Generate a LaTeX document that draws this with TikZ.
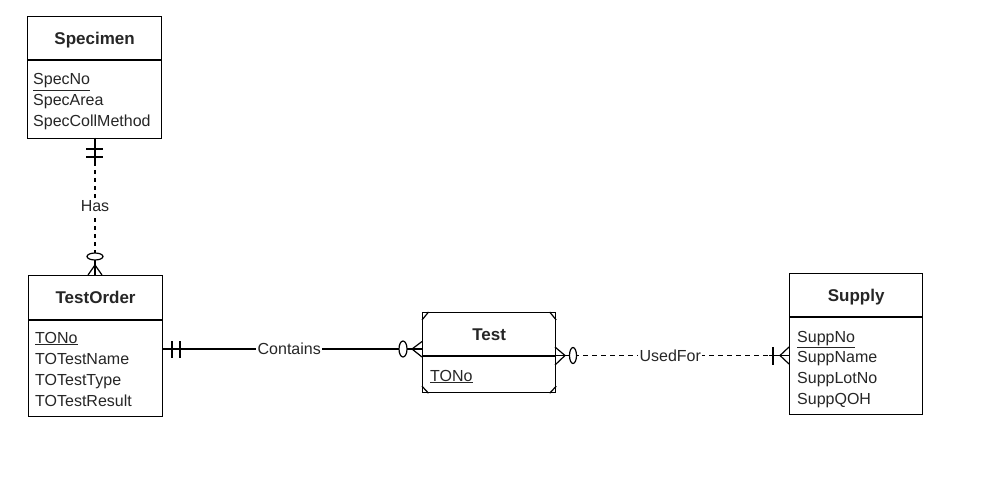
\documentclass[tikz,border=0pt]{standalone}
\usepackage{fontspec}
\setmainfont{Liberation Sans}
\usetikzlibrary{calc}
\begin{document}
\begin{tikzpicture}[x=1pt,y=-1pt,
  ent/.style={draw=black,line width=1.2pt,fill=white,anchor=north west,inner sep=0pt},
  etitle/.style={font=\fontsize{17}{19}\selectfont\bfseries,text=black!85,inner sep=0pt,anchor=base},
  attr/.style={font=\fontsize{16}{19}\selectfont,text=black!85,anchor=base west,inner sep=0pt},
  rel/.style={line width=1.2pt,draw=black},
  reldash/.style={line width=1.2pt,draw=black,dash pattern=on 4pt off 4pt},
  lbl/.style={font=\fontsize{16}{19}\selectfont,text=black!85,fill=white,inner sep=1.5pt},
  sym/.style={line width=1.2pt,draw=black},
  oval/.style={line width=1.2pt,draw=black,fill=white}]
\useasboundingbox (0,0) rectangle (984,497);

% Specimen
\node[ent,minimum width=134pt,minimum height=122pt] (spec) at (27,16) {};
\node[etitle] (specT) at ($(spec.north)+(0,29)$) {Specimen};
\draw[sym] (spec.west |- 0,60) -- (spec.east |- 0,60);
\node[attr] (specA1) at ($(spec.west |- 0,85)+(6,0)$) {\underline{SpecNo}};
\node[attr] (specA2) at ($(spec.west |- 0,106)+(6,0)$) {SpecArea};
\node[attr] (specA3) at ($(spec.west |- 0,127)+(6,0)$) {SpecCollMethod};

% TestOrder
\node[ent,minimum width=134pt,minimum height=141pt] (to) at (28,275) {};
\node[etitle] (toT) at ($(to.north)+(0,28)$) {TestOrder};
\draw[sym] (to.west |- 0,320) -- (to.east |- 0,320);
\node[attr] (toA1) at ($(to.west |- 0,343)+(7,0)$) {\underline{TONo}};
\node[attr] (toA2) at ($(to.west |- 0,364)+(7,0)$) {TOTestName};
\node[attr] (toA3) at ($(to.west |- 0,385)+(7,0)$) {TOTestType};
\node[attr] (toA4) at ($(to.west |- 0,406)+(7,0)$) {TOTestResult};

% Test
\node[ent,minimum width=133pt,minimum height=80pt] (test) at (422,312) {};
\node[etitle] (testT) at ($(test.north)+(0,28)$) {Test};
\draw[sym] (test.west |- 0,356) -- (test.east |- 0,356);
\node[attr] (testA1) at ($(test.west |- 0,381)+(8,0)$) {\underline{TONo}};
\draw[sym] ($(test.north west)+(0,8)$) -- ($(test.north west)+(6.5,0)$);
\draw[sym] ($(test.south west)+(0,-7)$) -- ($(test.south west)+(6.5,0)$);
\draw[sym] ($(test.north east)+(0,8)$) -- ($(test.north east)+(-6.5,0)$);
\draw[sym] ($(test.south east)+(0,-7)$) -- ($(test.south east)+(-6.5,0)$);

% Supply
\node[ent,minimum width=133pt,minimum height=141pt] (sup) at (789,273) {};
\node[etitle] (supT) at ($(sup.north)+(0,28)$) {Supply};
\draw[sym] (sup.west |- 0,317) -- (sup.east |- 0,317);
\node[attr] (supA1) at ($(sup.west |- 0,342)+(8,0)$) {\underline{SuppNo}};
\node[attr] (supA2) at ($(sup.west |- 0,362)+(8,0)$) {SuppName};
\node[attr] (supA3) at ($(sup.west |- 0,383)+(8,0)$) {SuppLotNo};
\node[attr] (supA4) at ($(sup.west |- 0,404)+(8,0)$) {SuppQOH};

% Has: Specimen -- TestOrder
\coordinate (hasTop) at (95,138);
\coordinate (hasBot) at (95,275);
\draw[reldash] (hasTop) -- node[lbl] (hasL) {Has} (hasBot);
\draw[rel] (hasTop) -- ++(0,28);
\draw[rel] (hasBot) -- ++(0,-14);
\draw[sym] (86,149) -- (103,149);
\draw[sym] (86,157) -- (103,157);
\draw[sym] (88,275) -- (95,265) -- (102,275);
\draw[oval] (95,256.5) ellipse [x radius=8, y radius=3.5];

% Contains: TestOrder -- Test
\draw[rel] (to.east |- 0,349) -- node[lbl,pos=0.487] (conL) {Contains} (test.west |- 0,349);
\draw[sym] (172,341) -- (172,358);
\draw[sym] (180,341) -- (180,358);
\draw[sym] (422,341.5) -- (412,349) -- (422,357);
\draw[oval] (403,349) ellipse [x radius=4, y radius=8];

% UsedFor: Test -- Supply
\draw[reldash,dash pattern=on 5pt off 4pt] (test.east |- 0,355.5) -- node[lbl,pos=0.49] (useL) {UsedFor} (sup.west |- 0,355.5);
\draw[rel] (test.east |- 0,355.5) -- ++(12,0);
\draw[rel] (sup.west |- 0,355.5) -- ++(-20,0);
\draw[sym] (555,347) -- (565,355.5) -- (555,365);
\draw[oval] (573,355.5) ellipse [x radius=3.5, y radius=8];
\draw[sym] (773,347) -- (773,365);
\draw[sym] (789,347) -- (780,355.5) -- (789,364);
\end{tikzpicture}
\end{document}
